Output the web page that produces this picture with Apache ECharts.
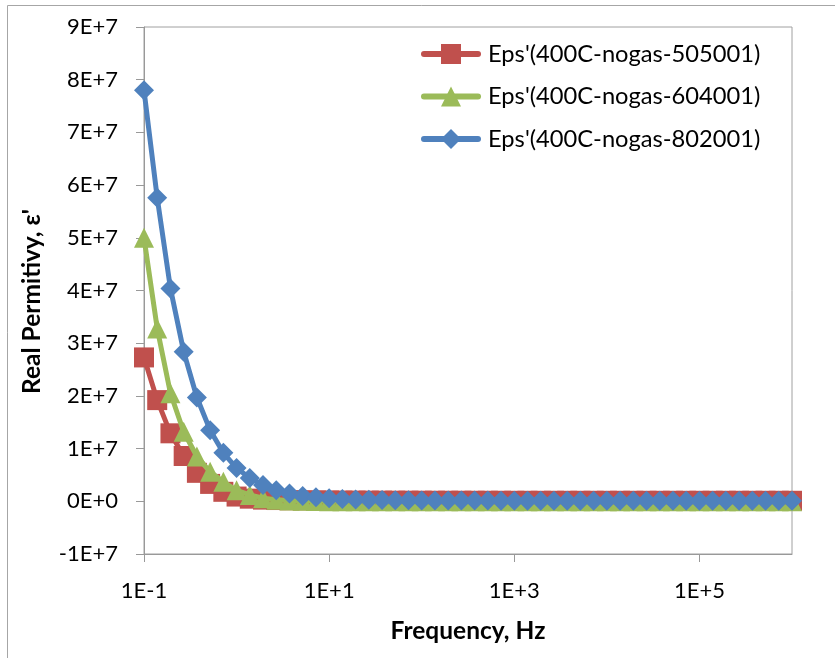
<!DOCTYPE html>
<html>
<head>
<meta charset="utf-8">
<script src="https://cdn.jsdelivr.net/npm/echarts@6/dist/echarts.min.js"></script>
<style>
html,body{margin:0;padding:0;background:#fff;}
#chart{width:835px;height:658px;}
</style>
</head>
<body>
<div id="chart"></div>
<script>
// Frequencies (Hz), 7 points per decade
var frequency = [0.1, 0.1389, 0.1931, 0.2683, 0.3728, 0.5179, 0.7197,
  1, 1.389, 1.931, 2.683, 3.728, 5.179, 7.197,
  10, 13.89, 19.31, 26.83, 37.28, 51.79, 71.97,
  100, 138.9, 193.1, 268.3, 372.8, 517.9, 719.7,
  1000, 1389, 1931, 2683, 3728, 5179, 7197,
  10000, 13890, 19310, 26830, 37280, 51790, 71970,
  100000, 138900, 193100, 268300, 372800, 517900, 719700, 1000000];

var seriesNames = ["Eps'(400C-nogas-505001)", "Eps'(400C-nogas-604001)", "Eps'(400C-nogas-802001)"];

var eps505001 = [2.73e7, 1.92e7, 1.29e7, 8.6e6, 5.4e6, 3.3e6, 1.8e6,
  9.0e5, 5.0e5, 3.2e5, 2.4e5, 2.0e5, 1.8e5, 1.6e5,
  1.5e5, 1.4e5, 1.35e5, 1.3e5, 1.25e5, 1.2e5, 1.2e5,
  1.15e5, 1.1e5, 1.1e5, 1.1e5, 1.05e5, 1.05e5, 1.05e5,
  1.0e5, 1.0e5, 1.0e5, 1.0e5, 1.0e5, 1.0e5, 1.0e5,
  1.0e5, 1.0e5, 1.0e5, 1.0e5, 1.0e5, 1.0e5, 1.0e5,
  1.0e5, 1.0e5, 1.0e5, 1.0e5, 1.0e5, 1.0e5, 1.0e5, 1.0e5];

var eps604001 = [5.0e7, 3.28e7, 2.05e7, 1.32e7, 8.5e6, 5.6e6, 3.7e6,
  2.1e6, 1.2e6, 6.0e5, 3.0e5, 1.6e5, 9.0e4, 5.0e4,
  3.0e4, 2.0e4, 1.5e4, 1.2e4, 1.0e4, 1.0e4, 1.0e4,
  1.0e4, 1.0e4, 1.0e4, 1.0e4, 1.0e4, 1.0e4, 1.0e4,
  1.0e4, 1.0e4, 1.0e4, 1.0e4, 1.0e4, 1.0e4, 1.0e4,
  1.0e4, 1.0e4, 1.0e4, 1.0e4, 1.0e4, 1.0e4, 1.0e4,
  1.0e4, 1.0e4, 1.0e4, 1.0e4, 1.0e4, 1.0e4, 1.0e4, 1.0e4];

var eps802001 = [7.8e7, 5.76e7, 4.04e7, 2.84e7, 1.97e7, 1.35e7, 9.2e6,
  6.3e6, 4.4e6, 3.1e6, 2.1e6, 1.5e6, 1.0e6, 7.6e5,
  5.7e5, 4.3e5, 3.4e5, 2.8e5, 2.4e5, 2.1e5, 1.9e5,
  1.7e5, 1.6e5, 1.5e5, 1.4e5, 1.35e5, 1.3e5, 1.25e5,
  1.2e5, 1.2e5, 1.15e5, 1.15e5, 1.1e5, 1.1e5, 1.1e5,
  1.1e5, 1.1e5, 1.1e5, 1.1e5, 1.1e5, 1.1e5, 1.1e5,
  1.1e5, 1.1e5, 1.1e5, 1.1e5, 1.1e5, 1.1e5, 1.1e5, 1.1e5];

var xTickValues = [0.1, 10, 1000, 100000];
var yMin = -1e7, yMax = 9e7, yStep = 1e7;

var colors = ['#C0504D', '#9BBB59', '#4F81BD'];
var symbols = ['rect', 'triangle', 'diamond'];
var valueSets = [eps505001, eps604001, eps802001];

var FONT = 'Lato, "Liberation Sans", sans-serif';

function pairs(vals) {
  return frequency.map(function (f, i) { return [f, vals[i]]; });
}

var series = valueSets.map(function (vals, k) {
  return {
    name: seriesNames[k],
    type: 'line',
    data: pairs(vals),
    symbol: symbols[k],
    symbolSize: 20,
    showSymbol: true,
    lineStyle: { color: colors[k], width: 5 },
    itemStyle: { color: colors[k] },
    z: 2 + k
  };
});

var chart = echarts.init(document.getElementById('chart'), null, { renderer: 'canvas' });
chart.setOption({
  animation: false,
  backgroundColor: '#fff',
  textStyle: { fontFamily: FONT },
  graphic: [{
    type: 'rect',
    shape: { x: 7.5, y: 5.5, width: 900, height: 900 },
    style: { fill: 'none', stroke: '#a6a6a6', lineWidth: 1 },
    silent: true,
    z: -10
  }],
  grid: {
    left: 144, top: 27, width: 648, height: 527,
    show: true, borderColor: '#a0a0a0', borderWidth: 1,
    containLabel: false
  },
  legend: {
    orient: 'vertical',
    left: 421, top: 42,
    itemWidth: 54, itemHeight: 25, itemGap: 18.5,
    padding: 0,
    selectedMode: false,
    lineStyle: { width: 6, cap: 'round' },
    textStyle: { fontFamily: FONT, fontSize: 23.7, color: '#000', padding: [0, 0, 0, 5] },
    data: seriesNames
  },
  xAxis: {
    type: 'log',
    logBase: 10,
    min: 0.1, max: 1e6,
    name: 'Frequency, Hz',
    nameLocation: 'middle',
    nameGap: 65,
    nameTextStyle: { fontFamily: FONT, fontSize: 24.5, fontWeight: 'bold', color: '#000' },
    axisLine: { onZero: false, lineStyle: { color: '#999', width: 1 } },
    axisTick: { show: true, inside: false, length: 8, customValues: xTickValues, lineStyle: { color: '#999' } },
    minorTick: { show: false },
    splitLine: { show: false },
    axisLabel: {
      customValues: xTickValues,
      margin: 26,
      fontFamily: FONT, fontSize: 22, color: '#000',
      formatter: function (v) {
        var e = Math.round(Math.log10(v));
        return '1E' + (e < 0 ? '-' : '+') + Math.abs(e);
      }
    }
  },
  yAxis: {
    type: 'value',
    min: yMin, max: yMax, interval: yStep,
    name: "Real Permitivy, ε'",
    nameLocation: 'middle',
    nameGap: 99,
    nameTextStyle: { fontFamily: FONT, fontSize: 24.5, fontWeight: 'bold', color: '#000', padding: [0, 22, 0, 0] },
    axisLine: { show: true, onZero: false, lineStyle: { color: '#999', width: 1 } },
    axisTick: { show: true, inside: false, length: 8, lineStyle: { color: '#999' } },
    splitLine: { show: false },
    axisLabel: {
      margin: 26,
      fontFamily: FONT, fontSize: 22, color: '#000',
      formatter: function (v) {
        if (v === 0) return '0E+0';
        return Math.round(v / 1e7) + 'E+7';
      }
    }
  },
  series: series
});
</script>
</body>
</html>
